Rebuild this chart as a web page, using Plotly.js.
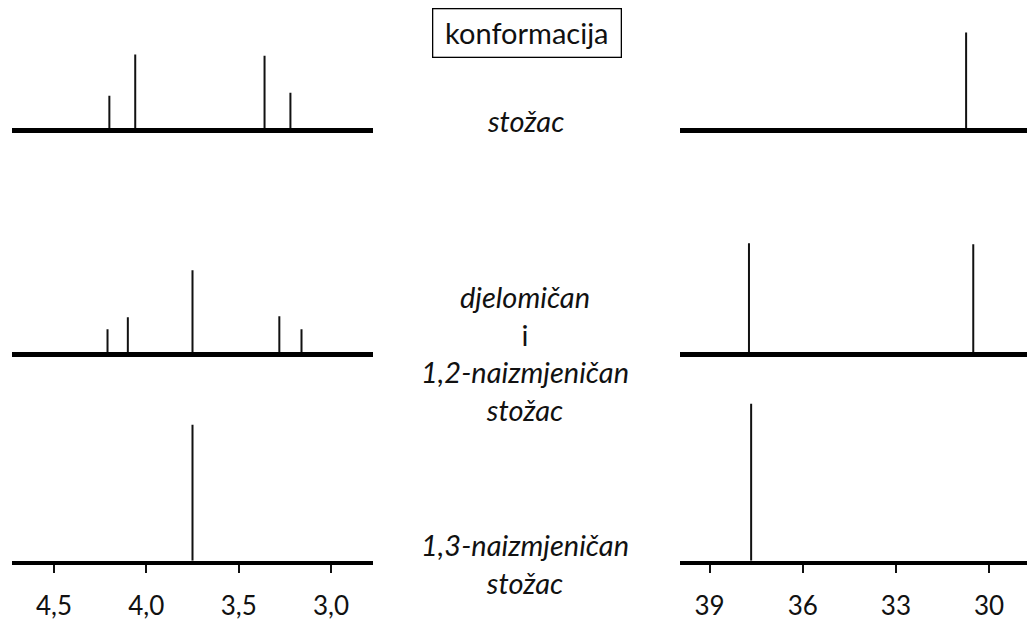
<!DOCTYPE html>
<html>
<head>
<meta charset="utf-8">
<script src="https://cdn.plot.ly/plotly-3.0.1.min.js"></script>
<style>
  html, body { margin: 0; padding: 0; background: #ffffff; }
  #chart { width: 1027px; height: 622px; }
</style>
</head>
<body>
<div id="chart"></div>
<script>
// ---------- data ----------
const protonTicks = [4.5, 4.0, 3.5, 3.0];          // 1H shift axis, ppm
const carbonTicks = [39, 36, 33, 30];              // 13C shift axis, ppm
const headerLabel = 'konformacija';
const conformationLabels = [
  '<i>stožac</i>',
  '<i>djelomičan</i><br>i<br><i>1,2-naizmjeničan</i><br><i>stožac</i>',
  '<i>1,3-naizmjeničan</i><br><i>stožac</i>'
];

// cone (stožac)
const coneH_shift = [4.20, 4.06, 3.36, 3.22];
const coneH_int   = [20.7, 47.0, 46.2, 22.6];
const coneC_shift = [30.74];
const coneC_int   = [61.0];

// partial cone and 1,2-alternate
const partialH_shift = [4.21, 4.10, 3.75, 3.28, 3.16];
const partialH_int   = [14.6, 22.3, 52.2, 22.9, 14.6];
const partialC_shift = [37.73, 30.51];
const partialC_int   = [69.4, 68.8];

// 1,3-alternate
const alt13H_shift = [3.75];
const alt13H_int   = [86.6];
const alt13C_shift = [37.66];
const alt13C_int   = [100];

// ---------- page geometry ----------
const W = 1027, H = 622;
const PX_PER_UNIT = 1.57;
const LINE_W = 4.5;
const rows = [ {base: 130.5, top: 25}, {base: 354.5, top: 235}, {base: 563, top: 395} ];
const leftDomain  = [12 / W, 373 / W];
const rightDomain = [680 / W, 1];
const leftRange  = [4.727, 2.773];
const rightRange = [39.95, 28.78];

function sticks(shifts, ints) {
  const x = [], y = [];
  shifts.forEach((s, i) => { x.push(s, s, null); y.push(0, ints[i], null); });
  return {x, y};
}

const spectra = [
  [[coneH_shift, coneH_int], [coneC_shift, coneC_int]],
  [[partialH_shift, partialH_int], [partialC_shift, partialC_int]],
  [[alt13H_shift, alt13H_int], [alt13C_shift, alt13C_int]]
];

const traces = [];
const layout = {
  width: W, height: H,
  margin: {l: 0, r: 0, t: 0, b: 0},
  paper_bgcolor: '#ffffff', plot_bgcolor: 'rgba(0,0,0,0)',
  showlegend: false,
  separators: ',.',
  font: {family: 'Lato, "Open Sans", sans-serif', color: '#111111'},
  annotations: [],
  shapes: []
};

rows.forEach((r, ri) => {
  const hpx = r.base - r.top;
  const dom = [1 - (r.base - LINE_W / 2) / H, 1 - (r.top - LINE_W / 2) / H];
  const yr = [0, hpx / PX_PER_UNIT];
  [0, 1].forEach(ci => {
    const idx = ri * 2 + ci + 1;
    const xn = idx === 1 ? 'xaxis' : 'xaxis' + idx;
    const yn = idx === 1 ? 'yaxis' : 'yaxis' + idx;
    const xr = idx === 1 ? 'x' : 'x' + idx;
    const yrf = idx === 1 ? 'y' : 'y' + idx;
    const d = sticks(spectra[ri][ci][0], spectra[ri][ci][1]);
    traces.push({
      type: 'scatter', mode: 'lines', x: d.x, y: d.y,
      xaxis: xr, yaxis: yrf,
      line: {color: '#111111', width: 2},
      hoverinfo: 'skip', connectgaps: false
    });
    const isBottom = ri === rows.length - 1;
    layout[xn] = {
      domain: ci === 0 ? leftDomain : rightDomain,
      range: ci === 0 ? leftRange : rightRange,
      anchor: yrf,
      showline: true, linecolor: '#000000', linewidth: LINE_W,
      showgrid: false, zeroline: false, fixedrange: true,
      tickmode: 'array',
      tickvals: isBottom ? (ci === 0 ? protonTicks : carbonTicks) : [],
      tickformat: ci === 0 ? '.1f' : 'd',
      ticks: isBottom ? 'outside' : '',
      ticklen: 8, tickwidth: 2, tickcolor: '#111111',
      showticklabels: isBottom,
      ticklabelstandoff: 11,
      tickfont: {family: 'Lato, "Open Sans", sans-serif', size: 26, color: '#111111'}
    };
    layout[yn] = {
      domain: dom, range: yr, anchor: xr,
      visible: false, fixedrange: true, showgrid: false, zeroline: false
    };
  });
});

// header box
layout.annotations.push({
  xref: 'paper', yref: 'paper', x: 527.5 / W, y: 1 - 33.5 / H,
  xanchor: 'center', yanchor: 'middle',
  text: headerLabel, showarrow: false,
  font: {family: 'Lato, sans-serif', size: 29, color: '#111111'},
  width: 185, height: 45, valign: 'middle',
  bordercolor: '#000000', borderwidth: 1.3, borderpad: 1
});

// conformation labels
const labelCenters = [121, 353, 563.5];
conformationLabels.forEach((t, i) => {
  layout.annotations.push({
    xref: 'paper', yref: 'paper', x: 525 / W, y: 1 - labelCenters[i] / H,
    xanchor: 'center', yanchor: 'middle', align: 'center',
    text: t, showarrow: false,
    font: {family: 'Lato, sans-serif', size: 29, color: '#111111'}
  });
});

Plotly.newPlot('chart', traces, layout, {staticPlot: true, displayModeBar: false});
</script>
</body>
</html>
